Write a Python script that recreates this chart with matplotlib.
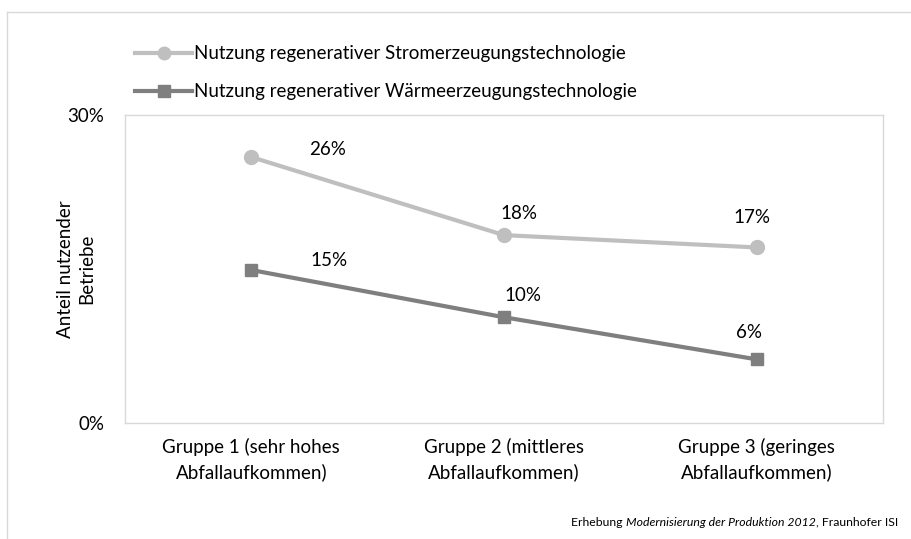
import matplotlib
matplotlib.use("Agg")
import matplotlib.pyplot as plt
from matplotlib.lines import Line2D

plt.rcParams['font.family'] = ['Lato', 'DejaVu Sans']

# Daten
gruppen = ["Gruppe 1 (sehr hohes\nAbfallaufkommen)",
           "Gruppe 2 (mittleres\nAbfallaufkommen)",
           "Gruppe 3 (geringes\nAbfallaufkommen)"]
strom = [0.259, 0.183, 0.171]
waerme = [0.149, 0.103, 0.062]
strom_labels = ["26%", "18%", "17%"]
waerme_labels = ["15%", "10%", "6%"]
name_strom = "Nutzung regenerativer Stromerzeugungstechnologie"
name_waerme = "Nutzung regenerativer Wärmeerzeugungstechnologie"

c_strom = "#bfbfbf"
c_waerme = "#7f7f7f"
fs = 13.5

fig = plt.figure(figsize=(9.12, 5.39), dpi=100)
ax = fig.add_axes([125 / 912, 1 - 423 / 539, (883 - 125) / 912, (423 - 115) / 539])

x = range(len(gruppen))
ax.plot(x, strom, color=c_strom, lw=3, marker='o', ms=10)
ax.plot(x, waerme, color=c_waerme, lw=3, marker='s', ms=9)

# Datenbeschriftungen (Versatz in Pixeln)
off_strom = [(76, 8), (15, 22), (-5, 30)]
off_waerme = [(78, 10), (19, 22), (-8, 27)]
for i in x:
    ax.annotate(strom_labels[i], (i, strom[i]), xytext=off_strom[i], textcoords='offset pixels',
                ha='center', va='center', fontsize=fs, color='#000000')
    ax.annotate(waerme_labels[i], (i, waerme[i]), xytext=off_waerme[i], textcoords='offset pixels',
                ha='center', va='center', fontsize=fs, color='#000000')

ax.set_xlim(-0.5, 2.5)
ax.set_ylim(0, 0.3)
ax.set_xticks(list(x))
ax.set_xticklabels(gruppen, fontsize=fs, linespacing=1.45)
ax.set_yticks([0, 0.3])
ax.set_yticklabels(["0%", "30%"], fontsize=fs)
ax.tick_params(length=0, pad=11)
ax.tick_params(axis='y', pad=15)
for s in ax.spines.values():
    s.set_color('#d9d9d9')
    s.set_linewidth(1)
ax.set_ylabel("Anteil nutzender\nBetriebe", fontsize=fs, linespacing=1.3)
ax.yaxis.set_label_coords((95 - 125) / 758, 0.5)

# Legende
handles = [Line2D([], [], color=c_strom, lw=3, marker='o', ms=9),
           Line2D([], [], color=c_waerme, lw=3, marker='s', ms=8)]
fig.legend(handles, [name_strom, name_waerme], loc='upper left',
           bbox_to_anchor=(128 / 912, 1 - 38 / 539), frameon=False, fontsize=fs,
           handlelength=3.0, handletextpad=0.1, labelspacing=1.1, borderaxespad=0)

# Rahmen
fig.add_artist(Line2D([7 / 912, 7 / 912], [0, 1 - 12 / 539], color='#d9d9d9', lw=1))
fig.add_artist(Line2D([7 / 912, 1], [1 - 12 / 539, 1 - 12 / 539], color='#d9d9d9', lw=1))

# Quelle
fs_q = 8.8
t3 = fig.text(898 / 912, 1 - 522 / 539, ", Fraunhofer ISI", ha='right', va='center', fontsize=fs_q)
ann2 = fig.add_artist(plt.Annotation("Modernisierung der Produktion 2012", xy=(0, 0), xycoords=t3,
                                     ha='right', va='bottom', fontsize=fs_q, style='italic'))
ann1 = fig.add_artist(plt.Annotation("Erhebung ", xy=(0, 0), xycoords=ann2,
                                     ha='right', va='bottom', fontsize=fs_q))

fig.savefig("out.png", dpi=100)
